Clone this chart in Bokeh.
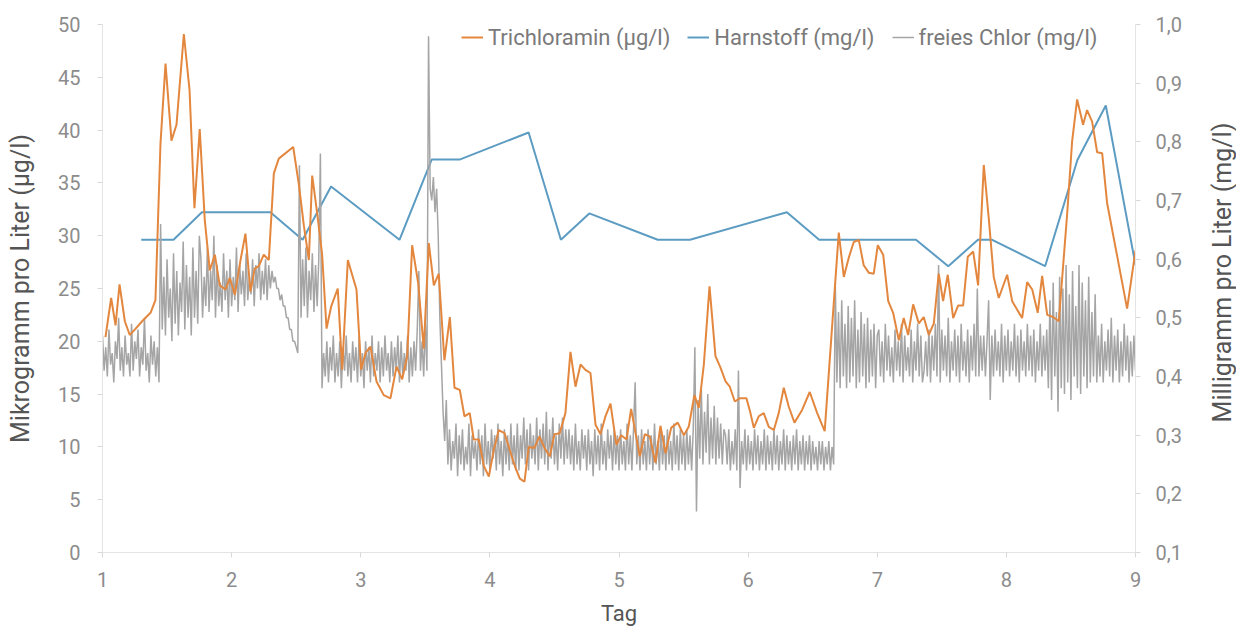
import math
import numpy as np
from bokeh.plotting import figure
from bokeh.layouts import row
from bokeh.models import Range1d, LinearAxis, FixedTicker, Legend, LegendItem, CustomJSTickFormatter, Label
from bokeh.embed import file_html
from bokeh.resources import INLINE

# ---- data ----
x_ticks = [1, 2, 3, 4, 5, 6, 7, 8, 9]
left_ticks = [0, 5, 10, 15, 20, 25, 30, 35, 40, 45, 50]
right_ticks = [0.1, 0.2, 0.3, 0.4, 0.5, 0.6, 0.7, 0.8, 0.9, 1.0]

tri_day = [
    1.023, 1.067, 1.101, 1.132, 1.173, 1.211, 1.250, 1.307, 1.372, 1.410,
    1.449, 1.488, 1.534, 1.573, 1.630, 1.674, 1.712, 1.753, 1.792, 1.831,
    1.870, 1.908, 1.953, 1.986, 2.025, 2.069, 2.107, 2.146, 2.179, 2.210,
    2.249, 2.288, 2.327, 2.365, 2.477, 2.520, 2.559, 2.598, 2.624, 2.663,
    2.701, 2.735, 2.771, 2.822, 2.856, 2.900, 2.967, 3.003, 3.037, 3.075,
    3.122, 3.178, 3.230, 3.277, 3.321, 3.360, 3.398, 3.445, 3.488, 3.527,
    3.566, 3.604, 3.648, 3.690, 3.726, 3.767, 3.803, 3.844, 3.875, 3.914,
    3.953, 3.992, 4.030, 4.069, 4.113, 4.154, 4.193, 4.232, 4.268, 4.301,
    4.345, 4.384, 4.423, 4.464, 4.500, 4.541, 4.585, 4.624, 4.663, 4.702,
    4.740, 4.779, 4.818, 4.857, 4.895, 4.934, 4.980, 5.017, 5.058, 5.094,
    5.128, 5.161, 5.200, 5.238, 5.282, 5.321, 5.360, 5.404, 5.455, 5.502,
    5.540, 5.584, 5.618, 5.657, 5.701, 5.747, 5.786, 5.825, 5.858, 5.897,
    5.935, 5.987, 6.018, 6.044, 6.082, 6.121, 6.160, 6.199, 6.237, 6.276,
    6.315, 6.359, 6.418, 6.477, 6.535, 6.593, 6.702, 6.741, 6.779, 6.818,
    6.857, 6.895, 6.934, 6.973, 7.004, 7.046, 7.085, 7.123, 7.167, 7.205,
    7.239, 7.278, 7.322, 7.360, 7.399, 7.438, 7.476, 7.510, 7.546, 7.588,
    7.627, 7.665, 7.701, 7.743, 7.781, 7.825, 7.864, 7.902, 7.941, 8.006,
    8.045, 8.083, 8.122, 8.161, 8.200, 8.243, 8.277, 8.316, 8.362, 8.406,
    8.471, 8.509, 8.548, 8.594, 8.625, 8.664, 8.703, 8.742, 8.780, 8.935,
    9.000,
]
tri_val = [
    20.4, 24.1, 21.5, 25.4, 21.9, 20.6, 21.1, 21.9, 22.7, 23.9,
    38.7, 46.3, 39.0, 40.5, 49.1, 43.8, 32.6, 40.1, 31.5, 26.7,
    28.2, 25.3, 24.9, 26.0, 24.4, 27.7, 30.2, 24.7, 26.9, 27.1,
    28.2, 27.7, 35.9, 37.3, 38.4, 34.9, 31.0, 27.7, 35.7, 32.1,
    28.2, 21.2, 23.3, 25.0, 17.3, 27.7, 24.9, 17.3, 18.9, 19.5,
    16.2, 14.9, 14.6, 17.6, 16.4, 18.6, 29.1, 25.5, 19.3, 29.3,
    25.3, 26.4, 18.2, 22.3, 15.6, 15.4, 12.9, 13.2, 10.7, 10.7,
    8.2, 7.2, 9.7, 11.6, 11.3, 9.7, 8.2, 7.0, 6.7, 10.0,
    9.9, 11.0, 9.9, 9.1, 11.2, 11.3, 13.2, 19.0, 15.7, 17.8,
    17.3, 17.0, 12.1, 11.2, 12.9, 14.1, 10.2, 11.1, 10.7, 13.6,
    11.3, 9.1, 11.2, 11.0, 8.5, 12.0, 9.4, 11.8, 12.3, 11.1,
    11.9, 14.9, 13.7, 17.8, 25.2, 18.6, 17.5, 16.2, 15.7, 14.3,
    14.6, 14.6, 13.2, 11.8, 12.9, 13.2, 11.9, 11.6, 13.2, 15.6,
    13.8, 12.3, 13.5, 15.2, 13.2, 11.5, 30.3, 26.1, 27.9, 29.4,
    29.6, 27.2, 26.5, 26.4, 29.1, 28.2, 23.8, 22.7, 20.1, 22.2,
    20.6, 23.5, 21.7, 22.3, 20.6, 21.7, 26.4, 23.8, 26.3, 22.2,
    23.4, 23.4, 28.0, 28.5, 25.3, 36.7, 31.6, 26.1, 24.1, 26.3,
    23.8, 23.0, 22.2, 25.6, 24.9, 22.7, 26.2, 22.5, 22.3, 21.9,
    32.1, 38.9, 42.9, 40.5, 41.9, 40.8, 37.9, 37.8, 33.1, 23.1,
    28.6,
]

urea_day = [1.30, 1.55, 1.77, 2.30, 2.55, 2.77, 3.30, 3.55, 3.77, 4.30, 4.55, 4.77,
            5.30, 5.55, 6.30, 6.55, 7.30, 7.55, 7.78, 7.89, 8.30, 8.55, 8.77, 9.00]
urea_val = [0.633, 0.633, 0.680, 0.680, 0.633, 0.724, 0.633, 0.770, 0.770, 0.816, 0.633, 0.678,
            0.633, 0.633, 0.680, 0.633, 0.633, 0.588, 0.633, 0.633, 0.588, 0.769, 0.862, 0.590]

# free chlorine (mg/l), logged every 0.0125 day from day 1 to day 9
chlor_start = 1.0
chlor_step = 0.0125
chlor_val = [
    # day 1.00 - 1.44
    0.47, 0.41, 0.45, 0.40, 0.48, 0.42, 0.44, 0.39, 0.46, 0.43,
    0.50, 0.41, 0.45, 0.40, 0.47, 0.42, 0.44, 0.40, 0.49, 0.41,
    0.46, 0.43, 0.48, 0.40, 0.45, 0.42, 0.50, 0.41, 0.44, 0.39,
    0.47, 0.42, 0.46, 0.40, 0.45, 0.39,
    # day 1.45 - 1.75
    0.66, 0.48, 0.57, 0.47, 0.60, 0.50, 0.55, 0.46, 0.61, 0.49,
    0.58, 0.47, 0.56, 0.51, 0.63, 0.48, 0.59, 0.50, 0.57, 0.47,
    0.62, 0.50, 0.58, 0.49, 0.64,
    # day 1.76 - 2.30
    0.60, 0.50, 0.57, 0.52, 0.62, 0.51, 0.58, 0.53, 0.64, 0.50,
    0.59, 0.52, 0.56, 0.51, 0.61, 0.53, 0.58, 0.50, 0.60, 0.52,
    0.57, 0.53, 0.62, 0.51, 0.59, 0.54, 0.58, 0.52, 0.61, 0.53,
    0.57, 0.54, 0.60, 0.52, 0.59, 0.55, 0.61, 0.53, 0.58, 0.54,
    0.60, 0.53, 0.59, 0.55,
    # day 2.31 - 2.51
    0.58, 0.56, 0.57, 0.55, 0.55, 0.53, 0.54, 0.52, 0.52, 0.50,
    0.50, 0.48, 0.48, 0.46, 0.46, 0.45, 0.44,
    # day 2.52 - 2.69
    0.76, 0.50, 0.60, 0.52, 0.62, 0.50, 0.58, 0.53, 0.61, 0.51,
    0.59, 0.52, 0.60, 0.78,
    # day 2.70 - 3.51
    0.38, 0.44, 0.40, 0.46, 0.39, 0.45, 0.41, 0.47, 0.39, 0.44,
    0.40, 0.46, 0.38, 0.45, 0.41, 0.47, 0.40, 0.44, 0.39, 0.46,
    0.41, 0.45, 0.39, 0.47, 0.40, 0.44, 0.38, 0.46, 0.41, 0.45,
    0.39, 0.47, 0.40, 0.44, 0.41, 0.46, 0.39, 0.45, 0.40, 0.47,
    0.41, 0.44, 0.39, 0.46, 0.40, 0.45, 0.41, 0.47, 0.39, 0.46,
    0.40, 0.44, 0.41, 0.47, 0.39, 0.45, 0.40, 0.46, 0.41, 0.48,
    0.58, 0.41, 0.46, 0.40, 0.49, 0.41,
    # day 3.52 - 3.65
    0.98, 0.72, 0.70, 0.74, 0.68, 0.72, 0.64, 0.50, 0.42, 0.34, 0.29,
    # day 3.66 - 4.20
    0.36, 0.25, 0.31, 0.24, 0.29, 0.26, 0.32, 0.23, 0.30, 0.25,
    0.31, 0.24, 0.28, 0.25, 0.32, 0.23, 0.30, 0.26, 0.29, 0.24,
    0.31, 0.25, 0.30, 0.23, 0.32, 0.25, 0.29, 0.24, 0.31, 0.26,
    0.30, 0.24, 0.32, 0.25, 0.29, 0.23, 0.31, 0.25, 0.30, 0.24,
    0.32, 0.25, 0.30, 0.24,
    # day 4.21 - 4.60
    0.32, 0.24, 0.30, 0.26, 0.33, 0.25, 0.31, 0.24, 0.32, 0.26,
    0.30, 0.25, 0.33, 0.24, 0.31, 0.26, 0.32, 0.25, 0.34, 0.24,
    0.31, 0.26, 0.33, 0.25, 0.30, 0.24, 0.32, 0.26, 0.33, 0.25,
    0.31, 0.26,
    # day 4.61 - 5.60
    0.31, 0.25, 0.30, 0.24, 0.32, 0.25, 0.29, 0.24, 0.31, 0.26,
    0.30, 0.24, 0.31, 0.25, 0.29, 0.23, 0.31, 0.25, 0.30, 0.24,
    0.32, 0.25, 0.29, 0.24, 0.31, 0.26, 0.30, 0.24, 0.31, 0.25,
    0.30, 0.24, 0.31, 0.25, 0.29, 0.24, 0.32, 0.25, 0.30, 0.24,
    0.31, 0.39, 0.25, 0.30, 0.24, 0.31, 0.25, 0.29, 0.24, 0.31,
    0.25, 0.30, 0.24, 0.32, 0.25, 0.29, 0.24, 0.31, 0.25, 0.30,
    0.24, 0.31, 0.25, 0.29, 0.24, 0.32, 0.25, 0.30, 0.24, 0.31,
    0.25, 0.30, 0.24, 0.31, 0.25, 0.30, 0.24, 0.31, 0.45, 0.17,
    # day 5.61 - 5.81
    0.36, 0.26, 0.38, 0.25, 0.34, 0.27, 0.37, 0.25, 0.33, 0.26,
    0.35, 0.25, 0.33, 0.26, 0.32, 0.25, 0.31,
    # day 5.83 - 6.66
    0.30, 0.25, 0.31, 0.24, 0.29, 0.25, 0.31, 0.24, 0.41, 0.21,
    0.29, 0.25, 0.31, 0.24, 0.30, 0.25, 0.29, 0.24, 0.31, 0.25,
    0.30, 0.24, 0.29, 0.25, 0.31, 0.24, 0.30, 0.25, 0.29, 0.24,
    0.31, 0.25, 0.30, 0.24, 0.29, 0.25, 0.31, 0.24, 0.30, 0.25,
    0.29, 0.24, 0.30, 0.25, 0.31, 0.24, 0.29, 0.25, 0.30, 0.24,
    0.29, 0.25, 0.30, 0.24, 0.29, 0.25, 0.28, 0.24, 0.29, 0.25,
    0.29, 0.24, 0.28, 0.25, 0.29, 0.24, 0.28, 0.25,
    # day 6.68 - 7.00
    0.56, 0.39, 0.51, 0.38, 0.53, 0.40, 0.49, 0.38, 0.52, 0.39,
    0.50, 0.40, 0.53, 0.38, 0.48, 0.39, 0.51, 0.40, 0.49, 0.38,
    0.50, 0.39, 0.48, 0.40, 0.49, 0.38, 0.47,
    # day 7.01 - 7.80
    0.48, 0.40, 0.46, 0.39, 0.49, 0.41, 0.47, 0.40, 0.45, 0.39,
    0.48, 0.41, 0.46, 0.40, 0.49, 0.39, 0.47, 0.41, 0.45, 0.40,
    0.48, 0.39, 0.46, 0.41, 0.49, 0.40, 0.47, 0.39, 0.41, 0.46,
    0.40, 0.48, 0.39, 0.47, 0.41, 0.49, 0.40, 0.59, 0.39, 0.48,
    0.41, 0.47, 0.40, 0.50, 0.39, 0.46, 0.41, 0.48, 0.40, 0.47,
    0.39, 0.49, 0.41, 0.46, 0.40, 0.48, 0.39, 0.47, 0.41, 0.49,
    0.40, 0.55, 0.40, 0.47,
    # day 7.81 - 8.30
    0.41, 0.47, 0.40, 0.46, 0.53, 0.36, 0.47, 0.40, 0.48, 0.41,
    0.46, 0.40, 0.49, 0.39, 0.47, 0.41, 0.48, 0.40, 0.46, 0.41,
    0.49, 0.40, 0.47, 0.39, 0.48, 0.41, 0.46, 0.40, 0.49, 0.41,
    0.47, 0.40, 0.48, 0.39, 0.46, 0.41, 0.49, 0.40, 0.47, 0.41,
    # day 8.31 - 8.70
    0.48, 0.38, 0.53, 0.36, 0.56, 0.40, 0.51, 0.34, 0.57, 0.38,
    0.55, 0.37, 0.59, 0.39, 0.54, 0.36, 0.58, 0.40, 0.52, 0.38,
    0.59, 0.37, 0.56, 0.40, 0.53, 0.38, 0.57, 0.39, 0.51, 0.40,
    0.54, 0.39,
    # day 8.71 - 9.00
    0.47, 0.40, 0.49, 0.39, 0.46, 0.41, 0.48, 0.40, 0.50, 0.39,
    0.47, 0.41, 0.48, 0.39, 0.46, 0.40, 0.49, 0.41, 0.47, 0.39,
    0.46, 0.40, 0.47, 0.41,
]
chlor_day = chlor_start + chlor_step * np.arange(len(chlor_val))

# ---- style ----
FONT = "Roboto"
ORANGE = "#E3873F"
BLUE = "#5D9CC2"
GRAY = "#A5A5A5"
TICK_COL = "#8C8C8C"
LABEL_COL = "#555555"
AXIS_COL = "#E4E4E4"

p = figure(width=1192, height=628, output_backend="svg", toolbar_location=None,
           x_range=Range1d(1, 9), y_range=Range1d(0, 50),
           min_border_left=102, min_border_right=57, min_border_top=24, min_border_bottom=75)
p.extra_y_ranges = {"right": Range1d(0.1, 1.0)}
p.outline_line_color = None
p.grid.visible = False
p.background_fill_color = "white"
p.border_fill_color = "white"

r_urea = p.line(urea_day, urea_val, y_range_name="right", line_color=BLUE, line_width=2)
r_chlor = p.line(chlor_day, chlor_val, y_range_name="right", line_color=GRAY, line_width=1.5)
r_tri = p.line(tri_day, tri_val, line_color=ORANGE, line_width=2)

def style_axis(ax):
    ax.major_label_text_font = FONT
    ax.major_label_text_font_size = "20px"
    ax.major_label_text_color = TICK_COL
    ax.axis_label_text_font = FONT
    ax.axis_label_text_color = LABEL_COL
    ax.axis_label_text_font_style = "normal"
    ax.axis_line_color = AXIS_COL
    ax.major_tick_line_color = "#D8D8D8"
    ax.major_tick_out = 5
    ax.major_tick_in = 0
    ax.minor_tick_line_color = None

xa = p.xaxis[0]
xa.ticker = FixedTicker(ticks=x_ticks)
style_axis(xa)
xa.axis_label = "Tag"
xa.axis_label_text_font_size = "22px"
xa.major_label_standoff = 14
xa.axis_label_standoff = 11

ya = p.yaxis[0]
ya.ticker = FixedTicker(ticks=left_ticks)
style_axis(ya)
ya.axis_label = "Mikrogramm pro Liter (µg/l)"
ya.axis_label_text_font_size = "25px"
ya.major_label_standoff = 17
ya.axis_label_standoff = 20

yr = LinearAxis(y_range_name="right", ticker=FixedTicker(ticks=right_ticks))
yr.formatter = CustomJSTickFormatter(code="return tick.toFixed(1).replace('.', ',');")
style_axis(yr)
yr.major_label_standoff = 15
p.add_layout(yr, "right")

legend = Legend(items=[
    LegendItem(label="Trichloramin (µg/l)", renderers=[r_tri]),
    LegendItem(label="Harnstoff (mg/l)", renderers=[r_urea]),
    LegendItem(label="freies Chlor (mg/l)", renderers=[r_chlor]),
], orientation="horizontal", location=(359, 502))
legend.label_text_font = FONT
legend.label_text_font_size = "22px"
legend.label_text_color = "#7A7A7A"
legend.glyph_width = 22
legend.glyph_height = 26
legend.label_height = 26
legend.label_standoff = 5
legend.spacing = 17
legend.padding = 2
legend.margin = 0
legend.border_line_color = None
legend.background_fill_alpha = 0
p.add_layout(legend, "center")

# narrow strip on the right carrying the secondary axis title (reads bottom-to-top)
side = figure(width=44, height=628, output_backend="svg", toolbar_location=None,
              x_range=Range1d(0, 44), y_range=Range1d(0, 628),
              x_axis_location=None, y_axis_location=None, min_border=0)
side.outline_line_color = None
side.grid.visible = False
side.background_fill_color = "white"
side.border_fill_color = "white"
side.add_layout(Label(x=30, y=333, text="Milligramm pro Liter (mg/l)", angle=math.pi / 2,
                      text_font=FONT, text_font_size="25px", text_color=LABEL_COL,
                      text_align="center", text_baseline="middle"))

layout = row(p, side, spacing=0)
open("out.html", "w").write(file_html(layout, INLINE))
